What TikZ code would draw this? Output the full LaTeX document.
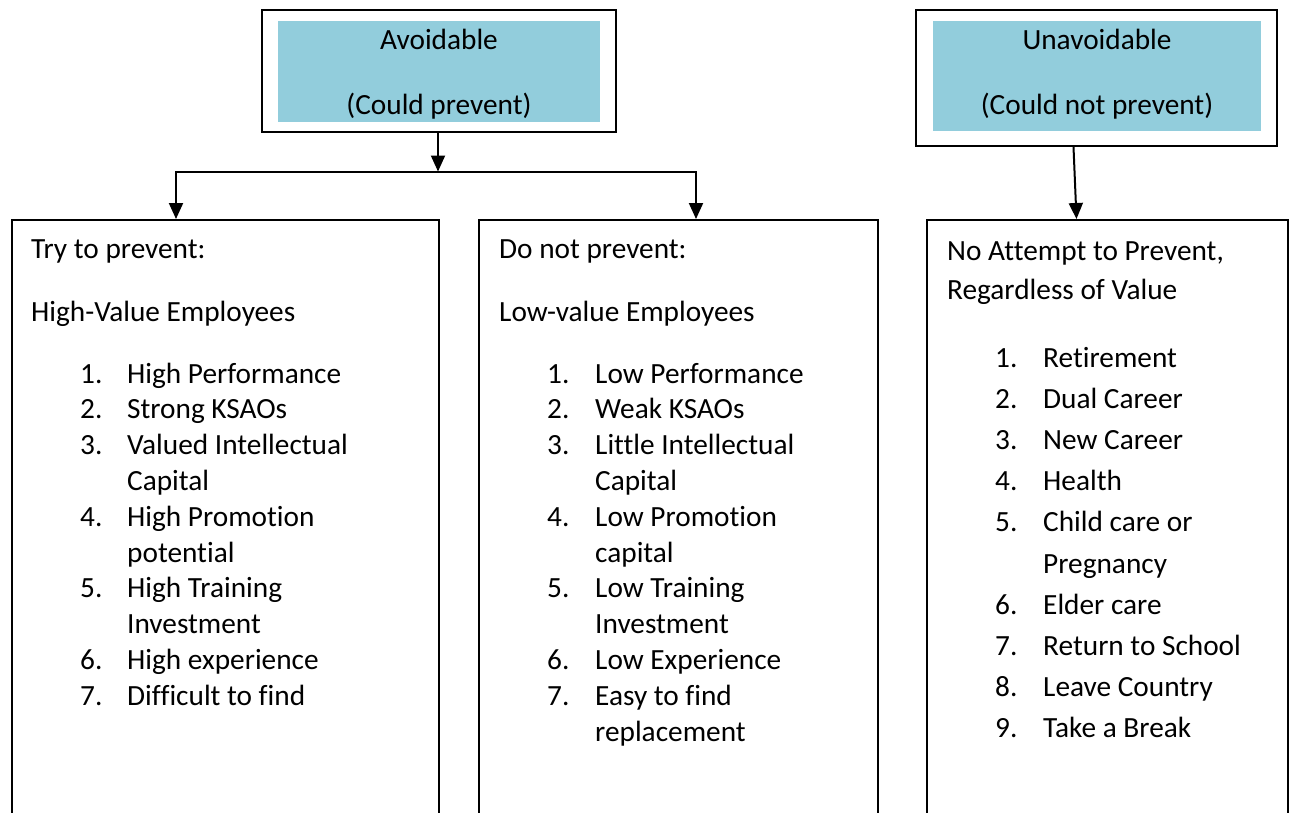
\documentclass[tikz,border=0pt]{standalone}
\usepackage{fontspec}
\setmainfont{Carlito}[Ligatures={NoCommon}]
\usetikzlibrary{arrows.meta}
\definecolor{aqua}{HTML}{92CDDC}
\begin{document}
\begin{tikzpicture}[x=1pt,y=-1pt,
  txt/.style={inner sep=0pt, anchor=base west, font=\fontsize{29.3}{35}\selectfont},
  ctxt/.style={inner sep=0pt, anchor=base, font=\fontsize{29.3}{35}\selectfont},
  outerbox/.style={draw=black, line width=1.8pt, inner sep=0pt, fill=white},
  innerfill/.style={fill=aqua, draw=none, inner sep=0pt},
  colbox/.style={draw=black, line width=1.6pt, inner sep=0pt, anchor=north west},
  conn/.style={draw=black, line width=2pt},
  arr/.style={conn, -{Triangle[length=16pt,width=14pt]}}
]
\useasboundingbox (0,0) rectangle (1290,812);
\clip (0,0) rectangle (1290,812);
\fill[white] (0,0) rectangle (1290,812);

% top boxes
\node[outerbox, minimum width=354pt, minimum height=122pt] (avo) at (439,71) {};
\node[innerfill, minimum width=322pt, minimum height=101pt] (avoin) at (439,71.3) {};
\node[ctxt] (avot1) at (439,49) {Avoidable};
\node[ctxt] (avot2) at (439,114) {(Could prevent)};

\node[outerbox, minimum width=361pt, minimum height=136pt] (una) at (1096.3,78) {};
\node[innerfill, minimum width=328pt, minimum height=110pt] (unain) at (1097,76) {};
\node[ctxt] (unat1) at (1097,49) {Unavoidable};
\node[ctxt] (unat2) at (1097,114) {(Could not prevent)};

% column boxes
\node[colbox, minimum width=427pt, minimum height=640pt] (b1) at (11,219) {};
\node[colbox, minimum width=399pt, minimum height=640pt] (b2) at (478,219) {};
\node[colbox, minimum width=361pt, minimum height=640pt] (b3) at (926,219) {};

% connectors
\coordinate (j) at (438,171.5);
\coordinate (t1) at (176,219);
\coordinate (t2) at (696,219);
\coordinate (t3) at (1076.5,219);
\draw[arr] (avo.south -| j) -- (j);
\draw[arr] (j) -| (t1);
\draw[arr] (j) -| (t2);
\draw[arr] (una.south -| 1073.5,0) -- (t3);

% column 1
\node[txt] (h1a) at (31,258) {Try to prevent:};
\node[txt] (h1b) at (31,321) {High-Value Employees};
\foreach \n/\t/\y in {1./High Performance/383, 2./Strong KSAOs/418.8, 3./Valued Intellectual/454.6,
   4./High Promotion/526.2, 5./High Training/597.8, 6./High experience/669.4, 7./Difficult to find/705.2}{
  \node[txt] at (80,\y) {\n};
  \node[txt] at (127,\y) {\t};
}
\node[txt] (c1a) at (127,490.4) {Capital};
\node[txt] (c1b) at (127,562) {potential};
\node[txt] (c1c) at (127,633.6) {Investment};

% column 2
\node[txt] (h2a) at (499,258) {Do not prevent:};
\node[txt] (h2b) at (499,321) {Low-value Employees};
\foreach \n/\t/\y in {1./Low Performance/383, 2./Weak KSAOs/418.8, 3./Little Intellectual/454.6,
   4./Low Promotion/526.2, 5./Low Training/597.8, 6./Low Experience/669.4, 7./Easy to find/705.2}{
  \node[txt] at (547,\y) {\n};
  \node[txt] at (595,\y) {\t};
}
\node[txt] (c2a) at (595,490.4) {Capital};
\node[txt] (c2b) at (595,562) {capital};
\node[txt] (c2c) at (595,633.6) {Investment};
\node[txt] (c2d) at (595,741) {replacement};

% column 3
\node[txt] (h3a) at (947,260) {No Attempt to Prevent,};
\node[txt] (h3b) at (947,299) {Regardless of Value};
\foreach \n/\t/\y in {1./Retirement/367.5, 2./Dual Career/408.6, 3./New Career/449.7, 4./Health/490.8,
   5./Child care or/531.9, 6./Elder care/614.1, 7./Return to School/655.2, 8./Leave Country/696.3, 9./Take a Break/737.4}{
  \node[txt] at (995,\y) {\n};
  \node[txt] at (1043,\y) {\t};
}
\node[txt] (c3a) at (1043,573) {Pregnancy};
\end{tikzpicture}
\end{document}
